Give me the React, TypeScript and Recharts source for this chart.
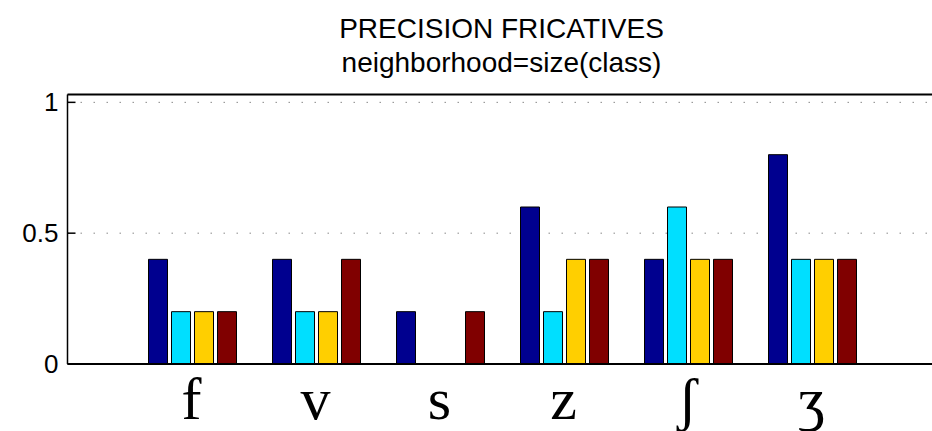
import React from 'react';
import { BarChart, Bar, XAxis, YAxis, CartesianGrid, ReferenceLine } from 'recharts';

const categories = ['f', 'v', 's', 'z', 'ʃ', 'ʒ'];
const seriesBlue = [0.4, 0.4, 0.2, 0.6, 0.4, 0.8];
const seriesCyan = [0.2, 0.2, 0, 0.2, 0.6, 0.4];
const seriesYellow = [0.2, 0.2, 0, 0.4, 0.4, 0.4];
const seriesRed = [0.2, 0.4, 0.2, 0.4, 0.4, 0.4];
const yTicks = [0, 0.5, 1];
const yMax = 1.03;
const titleLine1 = 'PRECISION FRICATIVES';
const titleLine2 = 'neighborhood=size(class)';

const data = categories.map((c, i) => ({
  name: c,
  a: seriesBlue[i],
  b: seriesCyan[i],
  c: seriesYellow[i],
  d: seriesRed[i],
}));

const SANS = '"Liberation Sans", Arial, Helvetica, sans-serif';
const SERIF = '"Liberation Serif", "DejaVu Serif", "Times New Roman", serif';

const LeftTick = (props: any) => {
  const { x, y, payload } = props;
  return (
    <g>
      <line x1={x} x2={x + 8} y1={y} y2={y} stroke="#000" strokeWidth={1.5} />
      <text x={x - 9} y={y} dy={9} textAnchor="end" fontFamily={SANS} fontSize={26} fill="#000">
        {payload.value}
      </text>
    </g>
  );
};

const RightTick = (props: any) => {
  const { x, y } = props;
  return <line x1={x - 8} x2={x} y1={y} y2={y} stroke="#000" strokeWidth={1.5} />;
};

const XTick = (props: any) => {
  const { x, y, payload } = props;
  return (
    <text x={x} y={y} dy={55} textAnchor="middle" fontFamily={SERIF} fontSize={60} fill="#000">
      {payload.value}
    </text>
  );
};

export default function App() {
  return (
    <div style={{ position: 'absolute', left: 0, top: 0, width: 932, height: 431, overflow: 'hidden', background: '#fff' }}>
      <svg width={932} height={90} style={{ position: 'absolute', left: 0, top: 0 }}>
        <text x={501.5} y={38} textAnchor="middle" fontFamily={SANS} fontSize={28} fill="#000">
          {titleLine1}
        </text>
        <text x={501.5} y={71.5} textAnchor="middle" fontFamily={SANS} fontSize={28} fill="#000">
          {titleLine2}
        </text>
      </svg>
      <div style={{ position: 'absolute', left: 0, top: 0 }}>
        <BarChart
          width={940}
          height={431}
          data={data}
          margin={{ top: 94.5, right: 0, bottom: 0, left: 0 }}
          barCategoryGap={19}
          barGap={4}
        >
          <CartesianGrid vertical={false} stroke="#8a8a8a" strokeDasharray="1.5 11.5" />
          <XAxis
            dataKey="name"
            height={67}
            padding={{ left: 62, right: 62 }}
            tickLine={false}
            tickSize={0}
            tickMargin={0}
            axisLine={{ stroke: '#000', strokeWidth: 2 }}
            tick={<XTick />}
            interval={0}
          />
          <YAxis
            width={67.5}
            domain={[0, yMax]}
            ticks={yTicks}
            tickSize={0}
            tickMargin={0}
            tickLine={false}
            axisLine={{ stroke: '#000', strokeWidth: 1.5 }}
            tick={<LeftTick />}
          />
          <YAxis
            yAxisId="r"
            orientation="right"
            width={4.5}
            domain={[0, yMax]}
            ticks={yTicks}
            tickSize={0}
            tickMargin={0}
            tickLine={false}
            axisLine={{ stroke: '#000', strokeWidth: 1.5 }}
            tick={<RightTick />}
          />
          <ReferenceLine y={yMax} stroke="#000" strokeWidth={2} />
          <Bar dataKey="a" fill="#00008f" stroke="#000" strokeWidth={1} isAnimationActive={false} />
          <Bar dataKey="b" fill="#00dfff" stroke="#000" strokeWidth={1} isAnimationActive={false} />
          <Bar dataKey="c" fill="#ffcf00" stroke="#000" strokeWidth={1} isAnimationActive={false} />
          <Bar dataKey="d" fill="#800000" stroke="#000" strokeWidth={1} isAnimationActive={false} />
        </BarChart>
      </div>
    </div>
  );
}
